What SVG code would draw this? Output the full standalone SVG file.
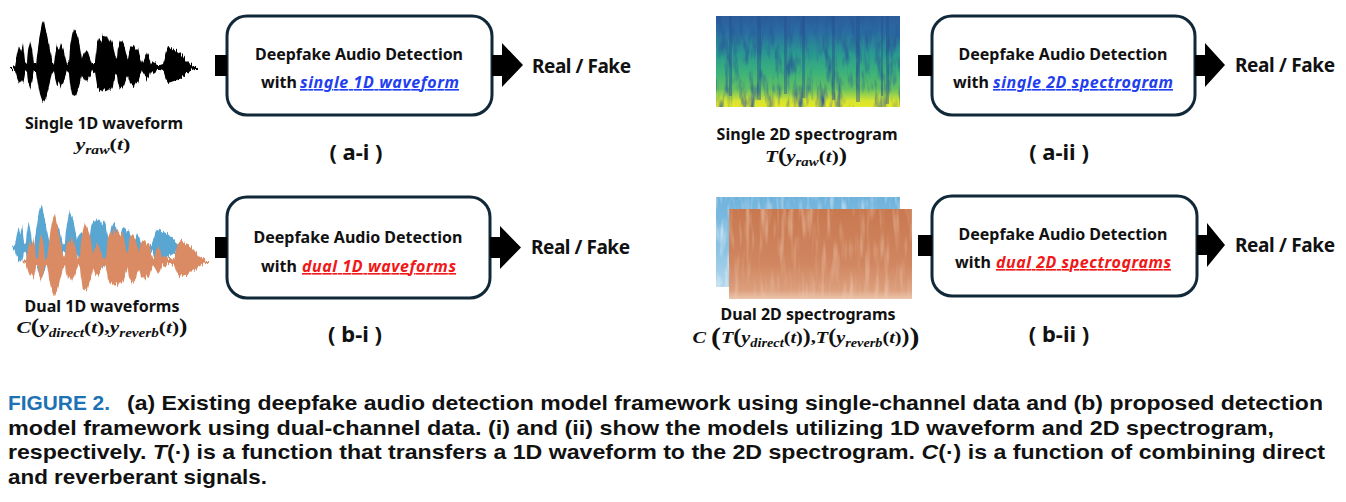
<svg xmlns="http://www.w3.org/2000/svg" xmlns:xlink="http://www.w3.org/1999/xlink" width="1346" height="502" viewBox="0 0 1346 502">
<style>
.lbl{font-family:"Noto Sans","Liberation Sans",sans-serif;font-weight:700;fill:#111}
.box{fill:#fff;stroke:#102838;stroke-width:3}
.conn{fill:#000}
.math{font-family:"Liberation Serif","DejaVu Serif",serif;font-style:italic;font-weight:700;fill:#111;font-size:17px}
.up{font-style:normal}
.cap{font-family:"Liberation Sans",Arial,sans-serif;font-weight:700;font-size:21px;fill:#111}
.hb{fill:#1f3ff0;font-style:italic;text-decoration:underline}
.hr{fill:#f01818;font-style:italic;text-decoration:underline}
</style>
<defs>
<path id="wave" d="M12,67 L15,66 L17,54 L19,46 L21,52 L23,43 L25,62 L27,64 L28,50 L30,40 L32,48 L34,64 L36,64 L38,48 L40,34 L42,24 L44,20 L46,30 L48,40 L50,50 L52,60 L54,64 L55,54 L57,46 L59,50 L61,43 L63,48 L65,56 L67,64 L69,62 L70,48 L72,36 L74,28 L76,32 L78,38 L80,48 L82,60 L84,54 L86,50 L88,52 L90,58 L92,64 L95,62 L97,44 L99,38 L101,40 L103,35 L105,38 L107,36 L109,42 L111,38 L113,44 L115,56 L117,60 L118,48 L120,42 L122,40 L124,44 L126,52 L128,58 L130,48 L132,46 L134,45 L136,50 L138,48 L140,58 L142,64 L145,58 L147,52 L149,56 L151,64 L153,62 L155,63 L157,65 L160,65 L163,64 L166,52 L168,47 L171,48 L174,50 L177,51 L180,53 L183,56 L186,60 L189,63 L192,65 L195,67 L195,69 L192,70 L189,72 L186,74 L183,76 L180,78 L177,80 L174,81 L171,82 L168,83 L166,80 L163,71 L160,70 L157,70 L155,72 L153,73 L151,71 L149,77 L147,80 L145,76 L142,71 L140,76 L138,83 L136,82 L134,86 L132,85 L130,83 L128,76 L126,80 L124,86 L122,89 L120,88 L118,83 L117,74 L115,77 L113,86 L111,90 L109,88 L107,91 L105,90 L103,92 L101,89 L99,90 L97,86 L95,73 L92,71 L90,76 L88,80 L86,82 L84,79 L82,74 L80,83 L78,90 L76,96 L74,97 L72,94 L70,84 L69,73 L67,71 L65,77 L63,83 L61,88 L59,82 L57,86 L55,78 L54,71 L52,74 L50,82 L48,90 L46,98 L44,102 L42,100 L40,94 L38,84 L36,71 L34,71 L32,82 L30,88 L28,82 L27,71 L25,73 L23,84 L21,80 L19,83 L17,78 L15,70 L12,69 Z"/>
<filter id="jag" x="-5%" y="-20%" width="110%" height="140%" color-interpolation-filters="sRGB">
<feTurbulence type="fractalNoise" baseFrequency="0.8 0.06" numOctaves="1" seed="5" result="t"/>
<feColorMatrix in="t" type="matrix" values="1 0 0 0 0  0 0 0 0 0.5  0 0 1 0 0  0 0 0 0 1" result="t2"/>
<feDisplacementMap in="SourceGraphic" in2="t2" scale="9" xChannelSelector="G" yChannelSelector="R"/>
</filter>
<linearGradient id="viri" x1="0" y1="0" x2="0" y2="1">
<stop offset="0" stop-color="#2c5c9c"/>
<stop offset="0.18" stop-color="#2a6ea2"/>
<stop offset="0.42" stop-color="#2a9a8f"/>
<stop offset="0.62" stop-color="#3cb27a"/>
<stop offset="0.8" stop-color="#62c062"/>
<stop offset="0.88" stop-color="#a6d646"/>
<stop offset="0.93" stop-color="#d6e42e"/>
<stop offset="1" stop-color="#e4e82a"/>
</linearGradient>
<linearGradient id="blueG" x1="0" y1="0" x2="0" y2="1">
<stop offset="0" stop-color="#6fb2dc"/>
<stop offset="0.6" stop-color="#8cc4e4"/>
<stop offset="1" stop-color="#b4d8ec"/>
</linearGradient>
<linearGradient id="orgG" x1="0" y1="0" x2="0" y2="1">
<stop offset="0" stop-color="#c8784f"/>
<stop offset="0.6" stop-color="#d08660"/>
<stop offset="0.9" stop-color="#dc9e7c"/>
<stop offset="1" stop-color="#ecc4ac"/>
</linearGradient>
<filter id="stA" x="0" y="0" width="1" height="1" color-interpolation-filters="sRGB">
<feTurbulence type="fractalNoise" baseFrequency="0.16 0.035" numOctaves="3" seed="7"/>
<feColorMatrix type="matrix" values="0 0 0 0 0.15  0 0 0 0 0.34  0 0 0 0 0.6  2.2 0 0 0 -1.0"/>
<feComposite in2="SourceGraphic" operator="in"/>
</filter>
<filter id="stB" x="0" y="0" width="1" height="1" color-interpolation-filters="sRGB">
<feTurbulence type="fractalNoise" baseFrequency="0.2 0.04" numOctaves="2" seed="3"/>
<feColorMatrix type="matrix" values="0 0 0 0 0.9  0 0 0 0 0.95  0 0 0 0 0.98  1.6 0 0 0 -0.75"/>
<feComposite in2="SourceGraphic" operator="in"/>
</filter>
<filter id="stO" x="0" y="0" width="1" height="1" color-interpolation-filters="sRGB">
<feTurbulence type="fractalNoise" baseFrequency="0.2 0.025" numOctaves="2" seed="11"/>
<feColorMatrix type="matrix" values="0 0 0 0 0.93  0 0 0 0 0.78  0 0 0 0 0.68  1.5 0 0 0 -0.72"/>
<feComposite in2="SourceGraphic" operator="in"/>
</filter>
</defs>

<rect width="1346" height="502" fill="#fff"/>

<!-- (a-i) -->
<g id="input-ai">
<g filter="url(#jag)">
<use xlink:href="#wave" href="#wave" fill="#000"/>
<rect x="10" y="67" width="188" height="2" fill="#000"/>
</g>
<text class="lbl" x="104" y="129" text-anchor="middle" font-size="16" textLength="158">Single 1D waveform</text>
<text class="math" x="103" y="150" text-anchor="middle" textLength="55" lengthAdjust="spacingAndGlyphs">y<tspan font-size="12" dy="4">raw</tspan><tspan class="up" dy="-4">(</tspan>t<tspan class="up">)</tspan></text>
</g>
<g id="box-ai">
<rect class="box" x="227" y="16" width="265" height="99" rx="20"/>
<text class="lbl" x="359" y="60" text-anchor="middle" font-size="16" textLength="208">Deepfake Audio Detection</text>
<text class="lbl" x="261" y="88" font-size="16">with <tspan class="hb" x="300" textLength="159">single 1D waveform</tspan></text>
</g>
<g id="out-ai"><text class="lbl" x="532" y="73" font-size="19" textLength="99">Real / Fake</text></g>
<g id="label-ai"><text class="lbl" x="356" y="160" text-anchor="middle" font-size="22">( a-i )</text></g>

<!-- (a-ii) -->
<g id="input-aii">
<rect x="716" y="16" width="184" height="91" fill="url(#viri)"/>
<rect x="716" y="16" width="184" height="91" fill="#fff" filter="url(#stA)"/>
<g fill="#25508e" opacity="0.45">
<rect x="729" y="16" width="3" height="80"/><rect x="757" y="16" width="4" height="84"/><rect x="784" y="16" width="3" height="78"/><rect x="802" y="16" width="3" height="82"/><rect x="832" y="16" width="3" height="84"/><rect x="856" y="16" width="4" height="86"/><rect x="881" y="16" width="2" height="80"/><rect x="886" y="16" width="3" height="88"/>
</g>
<text class="lbl" x="807" y="140" text-anchor="middle" font-size="16" textLength="181">Single 2D spectrogram</text>
<text class="math" x="806" y="162" text-anchor="middle" textLength="82" lengthAdjust="spacingAndGlyphs">T<tspan class="up" font-size="20">(</tspan>y<tspan font-size="12" dy="4">raw</tspan><tspan class="up" dy="-4">(</tspan>t<tspan class="up">)</tspan><tspan class="up" font-size="20">)</tspan></text>
</g>
<g id="box-aii">
<rect class="box" x="932" y="16" width="263" height="99" rx="20"/>
<text class="lbl" x="1063" y="60" text-anchor="middle" font-size="16" textLength="209">Deepfake Audio Detection</text>
<text class="lbl" x="953" y="88" font-size="16">with <tspan class="hb" x="993" textLength="180">single 2D spectrogram</tspan></text>
</g>
<g id="out-aii"><text class="lbl" x="1235" y="72" font-size="19" textLength="100">Real / Fake</text></g>
<g id="label-aii"><text class="lbl" x="1059" y="160" text-anchor="middle" font-size="22">( a-ii )</text></g>

<!-- (b-i) -->
<g id="input-bi">
<g filter="url(#jag)">
<use xlink:href="#wave" href="#wave" fill="#5aa6d3" transform="translate(0.8,186.8) scale(0.93,0.9)"/>
<use xlink:href="#wave" href="#wave" fill="#da8b63" transform="translate(11,194) scale(1.0,1.0)"/>
<rect x="195" y="261" width="14" height="2" fill="#da8b63"/>
</g>
<text class="lbl" x="102" y="312" text-anchor="middle" font-size="16" textLength="155">Dual 1D waveforms</text>
<text class="math" x="102" y="333" text-anchor="middle" textLength="171" lengthAdjust="spacingAndGlyphs">C<tspan class="up" font-size="20">(</tspan>y<tspan font-size="12" dy="4">direct</tspan><tspan class="up" dy="-4">(</tspan>t<tspan class="up">),</tspan>y<tspan font-size="12" dy="4">reverb</tspan><tspan class="up" dy="-4">(</tspan>t<tspan class="up">)</tspan><tspan class="up" font-size="20">)</tspan></text>
</g>
<g id="box-bi">
<rect class="box" x="227" y="197" width="263" height="101" rx="20"/>
<text class="lbl" x="358" y="243" text-anchor="middle" font-size="16" textLength="209">Deepfake Audio Detection</text>
<text class="lbl" x="261" y="272" font-size="16">with <tspan class="hr" x="302" textLength="154">dual 1D waveforms</tspan></text>
</g>
<g id="out-bi"><text class="lbl" x="531" y="254" font-size="19" textLength="99">Real / Fake</text></g>
<g id="label-bi"><text class="lbl" x="355" y="342" text-anchor="middle" font-size="22">( b-i )</text></g>

<!-- (b-ii) -->
<g id="input-bii">
<rect x="716" y="197" width="184" height="90" fill="url(#blueG)"/>
<rect x="716" y="197" width="184" height="90" fill="#fff" filter="url(#stB)"/>
<rect x="729" y="209" width="183" height="90" fill="url(#orgG)"/>
<rect x="729" y="209" width="183" height="90" fill="#fff" filter="url(#stO)"/>
<text class="lbl" x="808" y="320" text-anchor="middle" font-size="16" textLength="175">Dual 2D spectrograms</text>
<text class="math" x="806" y="343" text-anchor="middle" textLength="227" lengthAdjust="spacingAndGlyphs">C <tspan class="up" font-size="25" dy="2">(</tspan><tspan dy="-2">T</tspan><tspan class="up" font-size="20">(</tspan>y<tspan font-size="12" dy="4">direct</tspan><tspan class="up" dy="-4">(</tspan>t<tspan class="up">)</tspan><tspan class="up" font-size="20">)</tspan><tspan class="up">,</tspan>T<tspan class="up" font-size="20">(</tspan>y<tspan font-size="12" dy="4">reverb</tspan><tspan class="up" dy="-4">(</tspan>t<tspan class="up">)</tspan><tspan class="up" font-size="20">)</tspan><tspan class="up" font-size="25" dy="2">)</tspan></text>
</g>
<g id="box-bii">
<rect class="box" x="932" y="196" width="265" height="100" rx="20"/>
<text class="lbl" x="1063" y="240" text-anchor="middle" font-size="16" textLength="209">Deepfake Audio Detection</text>
<text class="lbl" x="955" y="268" font-size="16">with <tspan class="hr" x="996" textLength="175">dual 2D spectrograms</tspan></text>
</g>
<g id="out-bii"><text class="lbl" x="1235" y="252" font-size="19" textLength="100">Real / Fake</text></g>
<g id="label-bii"><text class="lbl" x="1059" y="342" text-anchor="middle" font-size="22">( b-ii )</text></g>

<!-- connectors -->
<g id="connectors" class="conn">
<rect x="215" y="55" width="12" height="21"/>
<path d="M492,55 H502 V43 L523,65 L502,87 V76 H492 Z"/>
<rect x="918" y="55" width="14" height="21"/>
<path d="M1195,55 H1205 V43 L1225,65 L1205,87 V76 H1195 Z"/>
<rect x="215" y="237" width="12" height="21"/>
<path d="M490,237 H500 V226 L521,247.5 L500,269 V258 H490 Z"/>
<rect x="918" y="235" width="14" height="21"/>
<path d="M1197,235 H1207 V223 L1225,245 L1207,267 V255 H1197 Z"/>
</g>

<!-- caption -->
<g id="caption">
<text class="cap" x="8" y="410" style="fill:#1c72b4" textLength="102" lengthAdjust="spacingAndGlyphs">FIGURE 2.</text>
<text class="cap" x="127" y="410" textLength="1196" lengthAdjust="spacingAndGlyphs">(a) Existing deepfake audio detection model framework using single-channel data and (b) proposed detection</text>
<text class="cap" x="8" y="435" textLength="1266" lengthAdjust="spacingAndGlyphs">model framework using dual-channel data. (i) and (ii) show the models utilizing 1D waveform and 2D spectrogram,</text>
<text class="cap" x="8" y="459" textLength="1317" lengthAdjust="spacingAndGlyphs">respectively. <tspan font-style="italic">T</tspan>(·) is a function that transfers a 1D waveform to the 2D spectrogram. <tspan font-style="italic">C</tspan>(·) is a function of combining direct</text>
<text class="cap" x="8" y="484" textLength="259" lengthAdjust="spacingAndGlyphs">and reverberant signals.</text>
</g>
</svg>
